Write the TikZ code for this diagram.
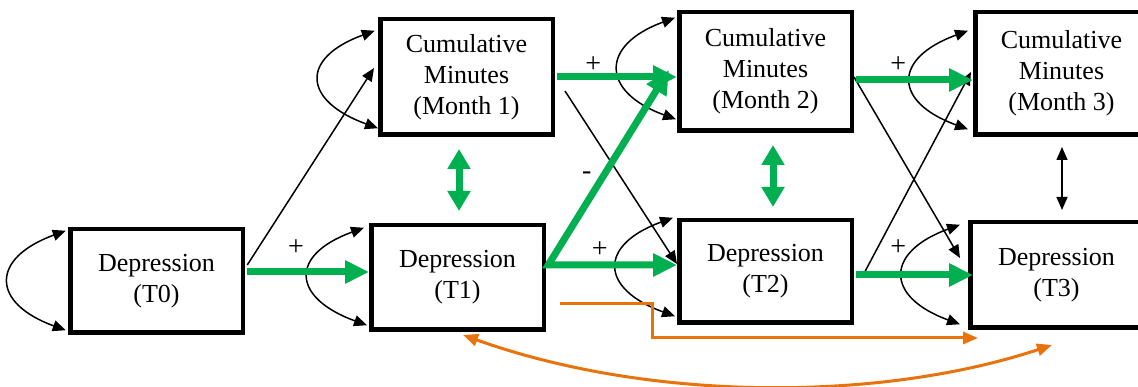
\documentclass[tikz,border=0pt]{standalone}
\usepackage{fontspec}
\setmainfont{Liberation Serif}
\usepackage{xcolor}
\definecolor{grn}{RGB}{0,176,80}
\definecolor{orng}{RGB}{232,114,12}
\usetikzlibrary{arrows.meta,calc}

\begin{document}
\begin{tikzpicture}[x=1pt, y=1pt,
  font=\fontsize{26}{31}\selectfont,
  box/.style={draw, line width=4.5pt, align=center, inner sep=0pt, minimum width=172.5pt, fill=white},
  arr/.style={-{Triangle[length=13pt, width=11pt]}, line width=1.5pt},
  dblarr/.style={{Triangle[length=13pt, width=11pt]}-{Triangle[length=13pt, width=11pt]}, line width=1.5pt},
  selfloop/.style={dblarr, out=200, in=160, distance=80pt},
  garr/.style={-{Triangle[length=24pt, width=22pt]}, line width=7pt, grn},
  gpair/.style={{Triangle[length=24pt, width=22pt]}-{Triangle[length=24pt, width=22pt]}, line width=7pt, grn, line join=miter},
  gdbl/.style={{Triangle[length=20pt, width=22pt]}-{Triangle[length=20pt, width=22pt]}, line width=7pt, grn},
  oarr/.style={-{Triangle[length=15pt, width=12pt]}, line width=3pt, orng},
  odbl/.style={{Triangle[length=15pt, width=12pt]}-{Triangle[length=15pt, width=12pt]}, line width=3pt, orng},
  sign/.style={font=\fontsize{28}{28}\selectfont, inner sep=0pt, text=black}]
\useasboundingbox (0,0) rectangle (1138,-387);
% boxes
\node[box, minimum height=103.5pt] (d0) at (156.5,-281) {Depression\\(T0)};
\node[box, minimum height=104.5pt] (d1) at (457.5,-277.5) {Depression\\(T1)};
\node[box, minimum height=102.5pt] (d2) at (765.5,-271.5) {Depression\\(T2)};
\node[box, minimum height=105.5pt] (d3) at (1056.5,-275) {Depression\\(T3)};
\node[box, minimum height=115.5pt] (cm1) at (466.5,-77) {Cumulative\\Minutes\\(Month 1)};
\node[box, minimum height=118.5pt] (cm2) at (765.5,-71.5) {Cumulative\\Minutes\\(Month 2)};
\node[box, minimum height=122.5pt] (cm3) at (1061.5,-73.5) {Cumulative\\Minutes\\(Month 3)};
% self loops
\draw[selfloop] ($(d0.north west)+(-2.25,-3.75)$) to ($(d0.south west)+(-2.25,4.75)$);
\draw[selfloop] ($(cm1.north west)+(-3.25,-13.75)$) to ($(cm1.south west)+(0,8.75)$);
\draw[selfloop] ($(d1.north west)+(-5,-4.75)$) to ($(d1.south west)+(-2,6.75)$);
\draw[selfloop] ($(cm2.north west)+(-2,-7.75)$) to ($(cm2.south west)+(-1,13.75)$);
\draw[selfloop] ($(d2.north west)+(-4,0.25)$) to ($(d2.south west)+(-2,8.75)$);
\draw[selfloop] ($(cm3.north west)+(-5,-20.75)$) to ($(cm3.south west)+(-5,7.75)$);
\draw[selfloop] ($(d3.north west)+(-8,-4.75)$) to ($(d3.south west)+(-8,5.75)$);
% cross-lagged paths
\draw[arr] ($(d0.east)+(2.25,16)$) -- ($(cm1.west)+(-4,9)$);
\draw[arr] ($(cm1.east)+(10,-14)$) -- node[sign, pos=0.49, xshift=-33pt]{-} ($(d2.west)+(0,7.5)$);
\draw[arr] ($(cm2.east)+(0,-5.5)$) -- ($(d3.west)+(-8,17)$);
\draw[arr] ($(d2.east)+(11,0)$) -- ($(cm3.west)+(-2,1.5)$);
% autoregressive paths
\coordinate (d0out) at ($(d0.east)+(2.25,9)$);
\coordinate (d1out) at ($(d1.east)+(2.25,12.5)$);
\coordinate (d2out) at ($(d2.east)+(2.25,-3.5)$);
\coordinate (c1out) at ($(cm1.east)+(2.25,0)$);
\coordinate (c2out) at ($(cm2.east)+(2.25,-8.5)$);
\draw[garr] (d0out) -- node[sign, pos=0.4, yshift=24pt]{+} (d0out -| d1.west);
\draw[gpair] (d1out -| d2.west) -- node[sign, pos=0.6, yshift=15pt]{+} (d1out) -- ($(cm2.west)+(-8,1.5)$);
\draw[garr] (c1out) -- node[sign, pos=0.3, yshift=12pt]{+} (c1out -| cm2.west);
\draw[garr] (c2out) -- node[sign, pos=0.36, yshift=15pt]{+} (c2out -| cm3.west);
\draw[garr] (d2out) -- node[sign, pos=0.36, yshift=27pt]{+} ($(d2out -| d3.west)+(5,0)$);
% within-time associations
\draw[gdbl] ($(cm1.south -| d1.north)+(1.5,-12)$) -- ($(d1.north)+(1.5,12)$);
\draw[gdbl] ($(cm2.south)+(7.5,-12)$) -- ($(d2.north)+(7.5,11)$);
\draw[dblarr] ($(cm3.south)+(0.5,-10)$) -- ($(d3.north)+(5.5,10)$);
% long lags
\draw[oarr] ($(d1.east)+(14,-26.5)$) -- ++(92,0) |- ($(d3.south west)+(10,-8)$);
\draw[odbl] ($(d1.south)+(5.5,-3)$) .. controls +(187,-67) and +(-172,-57) .. ($(d3.south)+(-4.5,-15)$);
\end{tikzpicture}
\end{document}
